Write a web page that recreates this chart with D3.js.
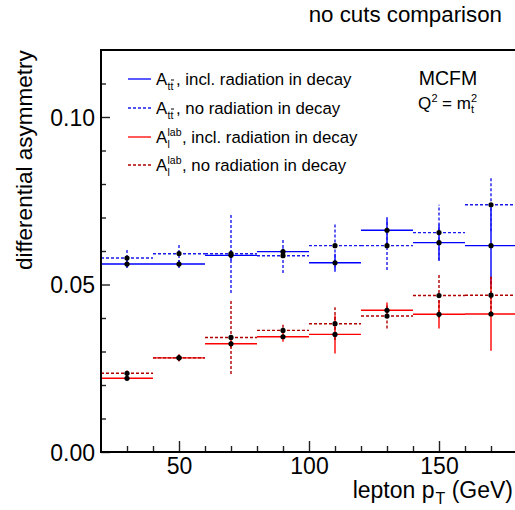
<!DOCTYPE html>
<html><head><meta charset="utf-8">
<script src="https://cdn.jsdelivr.net/npm/d3@7"></script>
<style>
body{margin:0;background:#fff}
svg{display:block;font-family:"Liberation Sans",Arial,Helvetica,sans-serif}
</style>
</head><body>
<svg id="c" width="515" height="510"></svg>
<script>
// ---- data ----
const binEdges = [20, 40, 60, 80, 100, 120, 140, 160, 180];
const binCenters = [30, 50, 70, 90, 110, 130, 150, 170];

const attIncl    = [0.0561, 0.0561, 0.0587, 0.0598, 0.0565, 0.0662, 0.0625, 0.0616];
const attInclErr = [0.0010, 0.0012, 0.0015, 0.0010, 0.0027, 0.0039, 0.0054, 0.0120];
const attNo      = [0.0579, 0.0592, 0.0592, 0.0586, 0.0616, 0.0616, 0.0655, 0.0738];
const attNoErr   = [0.0030, 0.0028, 0.0117, 0.0052, 0.0065, 0.0073, 0.0083, 0.0079];

const lepIncl    = [0.0220, 0.0281, 0.0323, 0.0344, 0.0351, 0.0423, 0.0411, 0.0412];
const lepInclErr = [0.0006, 0.0010, 0.0012, 0.0015, 0.0057, 0.0023, 0.0042, 0.0110];
const lepNo      = [0.0235, 0.0281, 0.0342, 0.0363, 0.0383, 0.0406, 0.0467, 0.0468];
const lepNoErr   = [0.0008, 0.0010, 0.0109, 0.0022, 0.0049, 0.0037, 0.0067, 0.0056];

const xMajorTicks = [50, 100, 150];
const xMinorTicks = [30, 40, 60, 70, 80, 90, 110, 120, 130, 140, 160, 170];
const yMajorTicks = [0, 0.05, 0.10];
const yMinorTicks = [0.01, 0.02, 0.03, 0.04, 0.06, 0.07, 0.08, 0.09, 0.11];

const titleText = "no cuts comparison";
const yTitle = "differential asymmetry";

// ---- layout ----
const svg = d3.select("#c");
const L = 101, R = 517, T = 50, B = 452;
const x = d3.scaleLinear().domain([20, 180]).range([L, R]);
const y = d3.scaleLinear().domain([0, 0.12]).range([B, T]);

svg.append("rect").attr("width", 515).attr("height", 510).attr("fill", "#fff");

// series
const series = [
  {v: attIncl, e: attInclErr, color: "#0000ff", dash: null},
  {v: attNo,   e: attNoErr,   color: "#1a1aee", dash: "3,2"},
  {v: lepIncl, e: lepInclErr, color: "#ff0000", dash: null},
  {v: lepNo,   e: lepNoErr,   color: "#b00000", dash: "3,2"}
];

const gData = svg.append("g");
series.forEach(s => {
  const g = gData.append("g")
    .attr("stroke", s.color).attr("stroke-width", 1.4)
    .attr("stroke-dasharray", s.dash);
  g.selectAll("line.h").data(binCenters).join("line")
    .attr("x1", (d, i) => x(binEdges[i])).attr("x2", (d, i) => x(binEdges[i + 1]))
    .attr("y1", (d, i) => y(s.v[i])).attr("y2", (d, i) => y(s.v[i]));
  g.selectAll("line.v").data(binCenters).join("line")
    .attr("x1", d => x(d)).attr("x2", d => x(d))
    .attr("y1", (d, i) => y(s.v[i] - s.e[i])).attr("y2", (d, i) => y(s.v[i] + s.e[i]));
});
series.forEach(s => {
  gData.append("g").selectAll("circle").data(binCenters).join("circle")
    .attr("cx", d => x(d)).attr("cy", (d, i) => y(s.v[i])).attr("r", 2.6)
    .attr("fill", "#000");
});

// axes
const fs = 23;
const ax = svg.append("g").attr("transform", `translate(0,${B})`)
  .call(d3.axisBottom(x).tickValues(xMajorTicks).tickSize(-11).tickPadding(6).tickFormat(d3.format("d")));
const axm = svg.append("g").attr("transform", `translate(0,${B})`)
  .call(d3.axisBottom(x).tickValues(xMinorTicks).tickSize(-6).tickFormat(""));
const ay = svg.append("g").attr("transform", `translate(${L},0)`)
  .call(d3.axisLeft(y).tickValues(yMajorTicks).tickSize(-9).tickPadding(6).tickFormat(d3.format(".2f")));
const aym = svg.append("g").attr("transform", `translate(${L},0)`)
  .call(d3.axisLeft(y).tickValues(yMinorTicks).tickSize(-5).tickFormat(""));
[ax, axm, ay, aym].forEach(a => {
  a.select(".domain").remove();
  a.selectAll("line").attr("stroke", "#222").attr("stroke-width", 1.4);
  a.selectAll("text").attr("font-size", fs).attr("fill", "#000")
    .style("font-family", '"Liberation Sans",Arial,sans-serif');
});
ay.selectAll("text").attr("dy", "0.36em");

// frame
svg.append("path").attr("fill", "none").attr("stroke", "#000").attr("stroke-width", 2)
  .attr("d", `M${R},${T}H${L}V${B}H${R}`);

// titles
svg.append("text").attr("x", 502).attr("y", 22).attr("text-anchor", "end")
  .attr("font-size", 22.3).text(titleText);

svg.append("text").attr("transform", "translate(32,270) rotate(-90)")
  .attr("font-size", 22.5).text(yTitle);

const xt = svg.append("text").attr("x", 513).attr("y", 498).attr("text-anchor", "end").attr("font-size", 23);
xt.append("tspan").text("lepton p");
xt.append("tspan").attr("font-size", 16).attr("dy", 6).attr("dx", 1).text("T");
xt.append("tspan").attr("dy", -6).text(" (GeV)");

// legend
const legX1 = 128, legX2 = 151, legTx = 156;
const legRows = [79, 108, 137, 165];
const legFs = 16.8;
series.forEach((s, i) => {
  svg.append("line").attr("x1", legX1).attr("x2", legX2).attr("y1", legRows[i]).attr("y2", legRows[i])
    .attr("stroke", s.color).attr("stroke-width", 1.3).attr("stroke-dasharray", s.dash);
});
const legTexts = [", incl. radiation in decay", ", no radiation in decay", ", incl. radiation in decay", ", no radiation in decay"];
legTexts.forEach((t, i) => {
  const g = svg.append("g").attr("transform", `translate(${legTx},${legRows[i] + 6})`);
  g.append("text").attr("font-size", legFs).text("A");
  if (i < 2) {
    g.append("text").attr("x", 11.5).attr("y", 5).attr("font-size", 10.5).text("tt");
    g.append("line").attr("x1", 15).attr("x2", 18).attr("y1", -5).attr("y2", -5)
      .attr("stroke", "#000").attr("stroke-width", 1);
    g.append("text").attr("x", 20).attr("font-size", legFs).text(t);
  } else {
    g.append("text").attr("x", 11.5).attr("y", -7).attr("font-size", 10.5).text("lab");
    g.append("text").attr("x", 11.5).attr("y", 5).attr("font-size", 10.5).text("l");
    g.append("text").attr("x", 26).attr("font-size", legFs).text(t);
  }
});

// MCFM annotation
svg.append("text").attr("x", 448).attr("y", 85).attr("text-anchor", "middle").attr("font-size", 19.5).text("MCFM");
const q = svg.append("g").attr("transform", "translate(418,109)");
q.append("text").attr("font-size", 17).text("Q");
q.append("text").attr("x", 13.5).attr("y", -7).attr("font-size", 11).text("2");
q.append("text").attr("x", 24).attr("font-size", 17).text("= m");
q.append("text").attr("x", 53).attr("y", -7).attr("font-size", 11).text("2");
q.append("text").attr("x", 53).attr("y", 4).attr("font-size", 11).text("t");
</script>
</body></html>
